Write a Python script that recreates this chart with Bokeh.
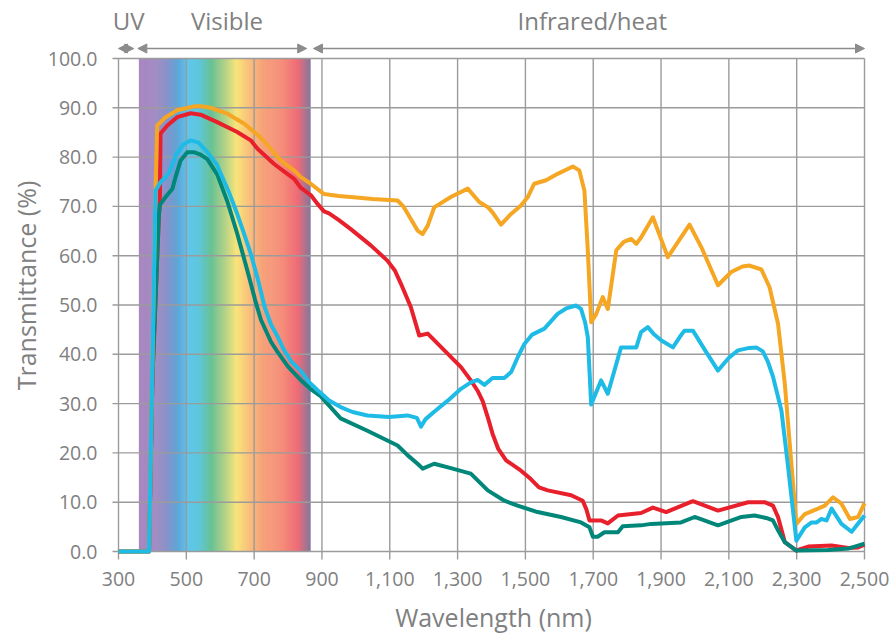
import math
from bokeh.plotting import figure
from bokeh.models import Range1d, Arrow, NormalHead
from bokeh.embed import file_html
from bokeh.resources import INLINE
from bokeh.core.properties import value

# ---------------- data ----------------
wl_orange = [300, 390, 409, 414, 439, 473, 522, 545, 572, 621, 670, 719, 745, 769, 790, 818, 837, 867, 906, 950,
             985, 1050, 1098, 1123, 1140, 1153, 1182, 1197, 1212, 1231, 1280, 1330, 1364, 1390, 1403, 1428, 1455,
             1487, 1507, 1526, 1561, 1595, 1640, 1659, 1674, 1684, 1694, 1709, 1728, 1743, 1768, 1790, 1812, 1827,
             1841, 1876, 1920, 1984, 2019, 2068, 2107, 2140, 2161, 2196, 2220, 2245, 2265, 2299, 2324, 2363, 2383,
             2407, 2432, 2457, 2481, 2500]
t_orange = [0, 0, 73.2, 86.4, 88.1, 89.5, 90.3, 90.3, 90.0, 88.8, 86.8, 84.0, 82.0, 80.0, 78.7, 77.3, 76.0, 74.6, 72.5, 72.1,
            71.9, 71.5, 71.3, 71.2, 70.0, 68.5, 65.1, 64.4, 66.1, 69.8, 71.9, 73.6, 70.9, 69.8, 68.8, 66.3, 68.3,
            70.2, 71.9, 74.6, 75.3, 76.6, 78.1, 77.3, 73.2, 61.1, 46.5, 48.2, 51.6, 49.2, 61.1, 62.8, 63.4, 62.4,
            63.7, 67.8, 59.7, 66.3, 61.7, 54.0, 56.7, 57.8, 58.0, 57.2, 53.6, 46.2, 34.0, 5.6, 7.6, 8.7, 9.3,
            11.0, 9.7, 6.6, 7.0, 9.8]

wl_red = [300, 390, 400, 419, 422, 424, 444, 473, 513, 542, 591, 650, 690, 710, 759, 790, 818, 837, 867, 887, 906, 921,
          950, 985, 1044, 1093, 1115, 1133, 1162, 1187, 1212, 1261, 1310, 1339, 1360, 1374, 1390, 1403, 1420, 1443,
          1487, 1516, 1540, 1566, 1635, 1669, 1680, 1689, 1723, 1743, 1773, 1841, 1876, 1915, 1994, 2068, 2157, 2205,
          2230, 2245, 2265, 2299, 2334, 2403, 2452, 2481, 2500]
t_red = [0, 0, 35, 68, 71, 84.8, 86.4, 88.1, 88.9, 88.6, 87.1, 85.1, 83.4, 81.7, 78.6, 77.0, 75.6, 73.8, 72.3, 70.5, 69.0, 68.6,
         67.2, 65.4, 62.1, 59.0, 57.0, 54.3, 49.6, 43.8, 44.2, 40.8, 37.4, 34.7, 32.5, 30.5, 27.0, 23.9, 20.8, 18.5,
         16.4, 14.7, 13.0, 12.4, 11.4, 10.3, 8.5, 6.3, 6.3, 5.7, 7.3, 7.8, 8.9, 8.0, 10.2, 8.3, 10.0, 10.0,
         9.3, 7.0, 1.9, 0.2, 1.0, 1.2, 0.7, 0.8, 1.4]

wl_cyan = [300, 390, 409, 425, 440, 450, 470, 490, 513, 535, 562, 590, 601, 625, 650, 670, 690, 710, 731, 750, 770, 787,
           810, 837, 860, 887, 896, 920, 955, 990, 1034, 1098, 1152, 1180, 1192, 1205, 1230, 1271, 1310, 1339, 1359,
           1379, 1403, 1438, 1458, 1478, 1497, 1520, 1556, 1595, 1620, 1649, 1664, 1676, 1684, 1694, 1723, 1743, 1782,
           1827, 1841, 1861, 1880, 1901, 1935, 1955, 1969, 1994, 2030, 2068, 2100, 2127, 2160, 2181, 2200, 2215, 2230,
           2255, 2275, 2299, 2324, 2344, 2359, 2373, 2388, 2403, 2432, 2462, 2500]
t_cyan = [0, 0, 73.2, 75.0, 76.0, 77.0, 80.5, 82.5, 83.4, 83.0, 81.0, 78.5, 76.7, 73.0, 68.5, 64.5, 60.4, 55.5, 49.6, 46.0, 43.5, 41.0,
          38.5, 36.7, 34.5, 32.7, 32.2, 30.7, 29.3, 28.3, 27.6, 27.3, 27.6, 27.1, 25.3, 26.8, 28.3, 30.6, 33.0, 34.3, 34.8,
          33.8, 35.2, 35.2, 36.4, 39.5, 42.1, 44.0, 45.2, 48.2, 49.3, 49.9, 49.2, 46.5, 43.5, 29.8, 34.7, 32.0, 41.4,
          41.4, 44.5, 45.5, 44.0, 42.8, 41.4, 43.5, 44.8, 44.8, 40.8, 36.7, 39.3, 40.8, 41.3, 41.4, 40.6, 38.5, 35.5,
          28.6, 17.0, 2.2, 4.9, 5.9, 5.9, 6.6, 6.3, 8.7, 5.6, 4.0, 7.3]

wl_teal = [300, 390, 400, 419, 422, 440, 459, 468, 483, 503, 522, 542, 562, 591, 621, 650, 680, 703, 720, 750, 769, 800,
           837, 866, 896, 955, 1034, 1123, 1153, 1182, 1197, 1231, 1280, 1339, 1389, 1438, 1477, 1536, 1605, 1664,
           1689, 1699, 1713, 1733, 1773, 1787, 1841, 1871, 1959, 1999, 2068, 2137, 2176, 2210, 2230, 2245, 2265, 2299,
           2393, 2452, 2500]
t_teal = [0, 0, 35, 68, 70.3, 72.0, 73.6, 75.9, 79.3, 81.0, 81.0, 80.5, 79.6, 76.5, 71.0, 64.5, 57.0, 51.0, 47.0, 42.5, 40.5, 37.5,
          34.8, 33.0, 31.5, 27.0, 24.5, 21.5, 19.5, 17.8, 16.8, 17.8, 16.9, 15.8, 12.4, 10.3, 9.3, 8.0, 7.0, 5.9,
          4.9, 3.0, 3.0, 3.9, 3.9, 5.1, 5.3, 5.6, 5.9, 7.0, 5.3, 7.0, 7.3, 6.8, 6.3, 4.3, 1.9, 0.2,
          0.3, 0.6, 1.6]

x_ticks = [300, 500, 700, 900, 1100, 1300, 1500, 1700, 1900, 2100, 2300, 2500]
x_tick_labels = ["{:,}".format(v) for v in x_ticks]
y_ticks = [0, 10, 20, 30, 40, 50, 60, 70, 80, 90, 100]
y_tick_labels = ["%.1f" % v for v in y_ticks]
x_title = "Wavelength (nm)"
y_title = "Transmittance (%)"

region_names = ["UV", "Visible", "Infrared/heat"]
region_label_x = [330, 620, 1697]
region_start = [300, 357, 875]
region_end = [345, 855, 2500]

# visible-band colour stops (decoration)
band_stops = [(360, "#a987c0"), (405, "#a38ac2"), (435, "#8e8fc6"), (475, "#5ea6d8"), (505, "#5ec7ef"),
              (540, "#60c7d6"), (575, "#66c190"), (612, "#aed188"), (648, "#f9e47a"), (685, "#f9c07c"),
              (725, "#f6a27a"), (790, "#f58878"), (828, "#f06b77"), (866, "#84789c")]

FONT = "Open Sans"
TXT = "#808080"
GRID = "#9b9b9b"

# ---------------- geometry (pixels) ----------------
W, H = 896, 635
AX_LEFT, AX_RIGHT = 118, 864          # pixel x of 300 nm and 2500 nm
AX_TOP, AX_BOTTOM = 58, 551           # pixel y of 100 % and 0 %
NM_PER_PX = (x_ticks[-1] - x_ticks[0]) / (AX_RIGHT - AX_LEFT)
PCT_PER_PX = (y_ticks[-1] - y_ticks[0]) / (AX_BOTTOM - AX_TOP)
# the frame covers the whole page; everything is placed through the data scales
X0 = x_ticks[0] - AX_LEFT * NM_PER_PX
X1 = x_ticks[-1] + (W - AX_RIGHT) * NM_PER_PX
Y0 = y_ticks[0] - (H - AX_BOTTOM) * PCT_PER_PX
Y1 = y_ticks[-1] + AX_TOP * PCT_PER_PX


def px_y(py):
    return (AX_BOTTOM - py) * PCT_PER_PX


def px_x(px):
    return x_ticks[0] + (px - AX_LEFT) * NM_PER_PX


ARROW_Y = px_y(48)
TITLE_Y = px_y(20)
YTICK_X0 = px_x(112)          # horizontal grid lines stick out as ticks
XTICK_Y0 = px_y(559)          # vertical grid lines stick out as ticks
YLAB_X = px_x(97)
XLAB_Y = px_y(578)
YTITLE_X, YTITLE_Y = px_x(25), px_y(285)
XTITLE_X, XTITLE_Y = px_x(493), px_y(616)


def hex2rgb(h):
    return tuple(int(h[i:i + 2], 16) for i in (1, 3, 5))


def band_color(w):
    for (w0, c0), (w1, c1) in zip(band_stops[:-1], band_stops[1:]):
        if w0 <= w <= w1:
            f = (w - w0) / (w1 - w0)
            a, b = hex2rgb(c0), hex2rgb(c1)
            return "#%02x%02x%02x" % tuple(round(a[i] + (b[i] - a[i]) * f) for i in range(3))
    return band_stops[-1][1]


band_left = list(range(band_stops[0][0], band_stops[-1][0], 3))
band_right = [min(b + 5, band_stops[-1][0]) for b in band_left]
band_cols = [band_color(b + 1.5) for b in band_left]

p = figure(width=W, height=H, x_range=Range1d(X0, X1), y_range=Range1d(Y0, Y1),
           output_backend="svg", toolbar_location=None, x_axis_location=None, y_axis_location=None,
           min_border_left=0, min_border_right=0, min_border_top=0, min_border_bottom=0)
p.outline_line_color = None
p.background_fill_color = "white"
p.border_fill_color = "white"
p.grid.visible = False

# visible spectrum band
p.quad(left=band_left, right=band_right, bottom=y_ticks[0], top=y_ticks[-1], fill_color=band_cols,
       line_color=None, level="image")

# grid lines, ticks and axis line
p.segment(x0=x_ticks, x1=x_ticks, y0=[XTICK_Y0] * len(x_ticks), y1=[y_ticks[-1]] * len(x_ticks),
          line_color=GRID, line_width=1.4, level="underlay")
p.segment(x0=[YTICK_X0] * len(y_ticks), x1=[x_ticks[-1]] * len(y_ticks), y0=y_ticks, y1=y_ticks,
          line_color=GRID, line_width=1.4, level="underlay")

# tick labels and axis titles
p.text(x=[YLAB_X] * len(y_ticks), y=y_ticks, text=y_tick_labels, text_align="right", text_baseline="middle",
       text_font=value(FONT), text_font_size="19.5px", text_color=TXT)
p.text(x=x_ticks, y=[XLAB_Y] * len(x_ticks), text=x_tick_labels, text_align="center", text_baseline="middle",
       text_font=value(FONT), text_font_size="19.5px", text_color=TXT)
p.text(x=[YTITLE_X], y=[YTITLE_Y], text=[y_title], angle=math.pi / 2, text_align="center",
       text_baseline="middle", text_font=value(FONT), text_font_size="25px", text_color=TXT)
p.text(x=[XTITLE_X], y=[XTITLE_Y], text=[x_title], text_align="center",
       text_baseline="middle", text_font=value(FONT), text_font_size="25px", text_color=TXT)

# curves
LW = 4
p.line(wl_red, t_red, line_color="#e8202c", line_width=LW, line_join="round")
p.line(wl_teal, t_teal, line_color="#00877a", line_width=LW, line_join="round")
p.line(wl_orange, t_orange, line_color="#f5a623", line_width=LW, line_join="round")
p.line(wl_cyan, t_cyan, line_color="#1ebbe6", line_width=LW, line_join="round")

# header: region arrows and names
for xs, xe in zip(region_start, region_end):
    p.add_layout(Arrow(x_start=xs, x_end=xe, y_start=ARROW_Y, y_end=ARROW_Y,
                       line_color="#8c8c8c", line_width=1.4,
                       start=NormalHead(size=9, fill_color="#8c8c8c", line_color="#8c8c8c"),
                       end=NormalHead(size=9, fill_color="#8c8c8c", line_color="#8c8c8c")))
p.text(x=region_label_x, y=[TITLE_Y] * len(region_names), text=region_names, text_align="center",
       text_baseline="middle", text_font=value(FONT), text_font_size="24px", text_color=TXT)

open("out.html", "w").write(file_html(p, INLINE))
